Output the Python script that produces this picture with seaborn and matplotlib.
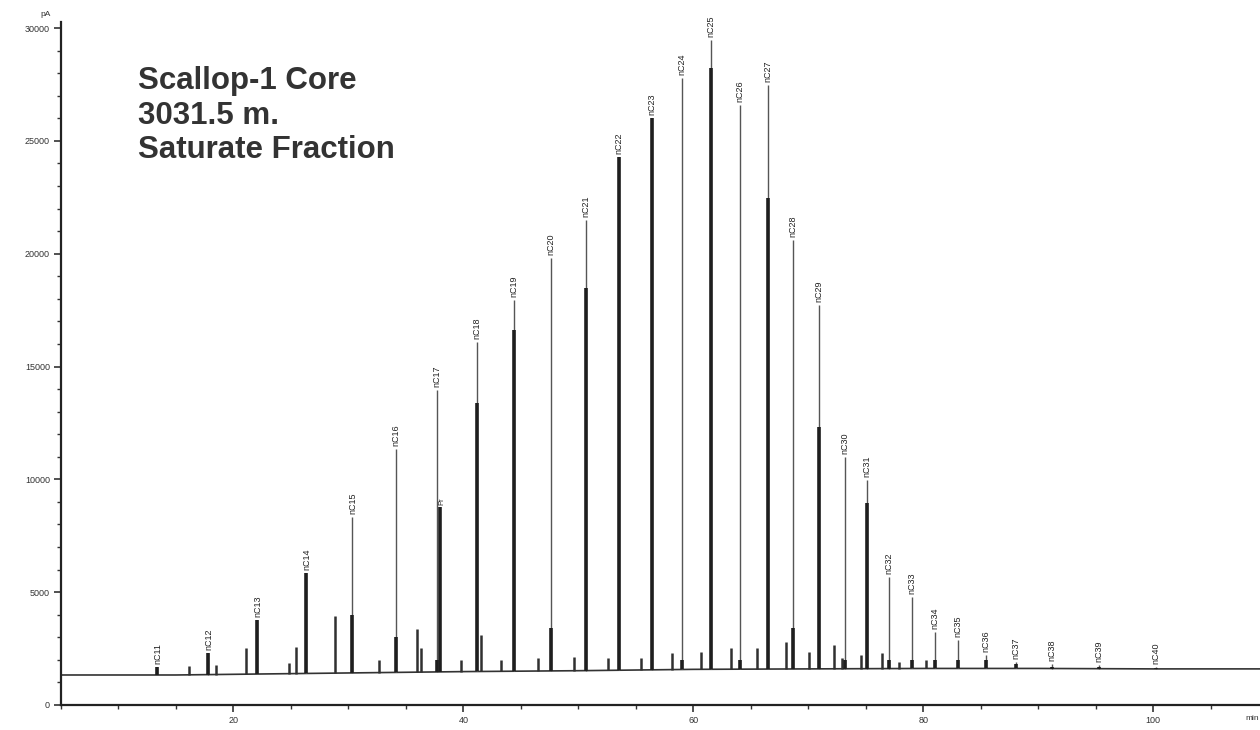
import numpy as np
import pandas as pd
import matplotlib
matplotlib.use("Agg")
import matplotlib.pyplot as plt
import seaborn as sns
from matplotlib.ticker import MultipleLocator, FixedLocator

# ---------------- data ----------------
alkane_labels = ["nC11", "nC12", "nC13", "nC14", "nC15", "nC16", "nC17", "nC18",
                 "nC19", "nC20", "nC21", "nC22", "nC23", "nC24", "nC25", "nC26",
                 "nC27", "nC28", "nC29", "nC30", "nC31", "nC32", "nC33", "nC34",
                 "nC35", "nC36", "nC37", "nC38", "nC39", "nC40"]
alkane_time = [13.39, 17.83, 22.09, 26.35, 30.35, 34.17, 37.74, 41.22,
               44.43, 47.65, 50.70, 53.57, 56.43, 59.04, 61.57, 64.09,
               66.52, 68.70, 70.96, 73.22, 75.13, 77.04, 79.04, 81.04,
               83.04, 85.48, 88.09, 91.22, 95.30, 100.26]
alkane_height = [1690, 2310, 3770, 5850, 8330, 11350, 13960, 16090,
                 17950, 19820, 21500, 24290, 26020, 27800, 29480, 26600,
                 27490, 20610, 17730, 10990, 9970, 5670, 4790, 3240,
                 2880, 2220, 1910, 1820, 1770, 1680]
# height of the dark (broad) lower part of each peak as rendered in the scan
alkane_core = [1690, 2310, 3770, 5850, 3990, 3010, 2000, 13390,
               16620, 3410, 18490, 24290, 26020, 2000, 28240, 2000,
               22480, 3410, 12320, 2000, 8950, 2000, 2000, 2000,
               2000, 2000, 1800, 1700, 1700, 1650]

pristane_time = [38.0]
pristane_height = [8780]

minor_time = [16.17, 18.52, 21.13, 24.87, 25.48, 28.87, 32.70, 36.00, 36.35,
              39.83, 41.57, 43.30, 46.52, 49.65, 52.61, 55.48, 58.17, 60.70,
              63.30, 65.57, 68.09, 70.09, 72.26, 72.96, 74.61, 76.43, 77.91,
              80.26]
minor_height = [1730, 1770, 2530, 1860, 2570, 3950, 2000, 3370, 2530,
                2000, 3100, 2000, 2080, 2130, 2080, 2080, 2310, 2350,
                2530, 2530, 2790, 2350, 2660, 2080, 2220, 2310, 1910,
                2000]

base_time = [5, 15, 20, 30, 40, 50, 60, 70, 80, 90, 100, 110]
base_level = [1330, 1330, 1360, 1420, 1480, 1520, 1580, 1600, 1620, 1620, 1600, 1600]

x_major = [20, 40, 60, 80, 100]
y_major = [0, 5000, 10000, 15000, 20000, 25000, 30000]

title_lines = ["Scallop-1 Core", "3031.5 m.", "Saturate Fraction"]

# ---------------- figure ----------------
sns.set_theme(style="white")
plt.rcParams['font.family'] = ['Liberation Sans', 'DejaVu Sans']

fig = plt.figure(figsize=(12.6, 7.3), dpi=100)
ax = fig.add_axes([61 / 1260, 25 / 730, (1260 - 61) / 1260, (705 - 22) / 730])

base_df = pd.DataFrame({"time": base_time, "signal": base_level})
sns.lineplot(data=base_df, x="time", y="signal", ax=ax, color="#333333", lw=1.2)

def base_at(t):
    return np.interp(t, base_time, base_level)

# minor peaks
mt = np.array(minor_time)
ax.vlines(mt, base_at(mt), minor_height, color="#303030", lw=1.8)

# n-alkane peaks: thin full-height line + dark lower core
at = np.array(alkane_time)
ax.vlines(at, base_at(at), alkane_height, color="#555555", lw=1.0)
ax.vlines(at, base_at(at), alkane_core, color="#1e1e1e", lw=2.6)

pt = np.array(pristane_time)
ax.vlines(pt, base_at(pt), pristane_height, color="#1e1e1e", lw=2.6)

for t, h, lab in zip(alkane_time, alkane_height, alkane_labels):
    ax.text(t, h + 120, lab, rotation=90, ha="center", va="bottom",
            fontsize=6.5, color="#222222")
ax.text(pristane_time[0] + 0.15, pristane_height[0] + 80, "Pr", rotation=90,
        ha="center", va="bottom", fontsize=5.5, color="#222222")

# axes styling
ax.set_xlim(5, 109.3)
ax.set_ylim(0, 30270)
ax.xaxis.set_major_locator(FixedLocator(x_major))
ax.xaxis.set_minor_locator(MultipleLocator(5))
ax.yaxis.set_major_locator(FixedLocator(y_major))
ax.yaxis.set_minor_locator(MultipleLocator(1000))
ax.set_xticklabels([str(v) for v in x_major])
ax.set_yticklabels([str(v) for v in y_major])
ax.tick_params(axis="both", which="major", direction="out", length=5, width=1.2,
               labelsize=6.5, colors="#333333", pad=3)
ax.tick_params(axis="both", which="minor", direction="out", length=3, width=1.0,
               colors="#333333")
ax.tick_params(left=True, bottom=True, which="both")
ax.set_xlabel("")
ax.set_ylabel("")
for s in ["top", "right"]:
    ax.spines[s].set_visible(False)
for s in ["left", "bottom"]:
    ax.spines[s].set_color("#222222")
    ax.spines[s].set_linewidth(1.6)
ax.grid(False)

fig.text(40 / 1260, 1 - 14 / 730, "pA", fontsize=6, color="#333333", va="center")
fig.text(1252 / 1260, 1 - 718 / 730, "min", fontsize=6, color="#333333",
         va="center", ha="center")

fig.text(138 / 1260, 1 - 66 / 730, "\n".join(title_lines), fontsize=22.5,
         fontweight="bold", color="#333333", va="top", ha="left", linespacing=1.2)

fig.savefig("out.png", dpi=100)
